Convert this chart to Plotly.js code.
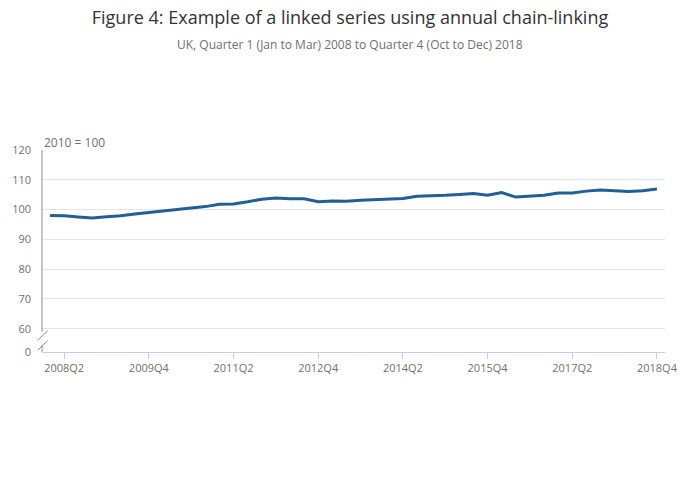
<!DOCTYPE html>
<html>
<head>
<meta charset="utf-8">
<script src="https://cdn.plot.ly/plotly-3.0.1.min.js"></script>
<style>html,body{margin:0;padding:0;background:#fff;}#chart{width:700px;height:502px;}</style>
</head>
<body>
<div id="chart"></div>
<script>
// Data
var years = [2008, 2009, 2010, 2011, 2012, 2013, 2014, 2015, 2016, 2017, 2018];
var quarterNames = ["Q1", "Q2", "Q3", "Q4"];
var quarters = [];
years.forEach(function (y) { quarterNames.forEach(function (q) { quarters.push(y + q); }); });

var indexValues = [
  98.0, 97.9, 97.5, 97.2,
  97.6, 97.9, 98.5, 99.0,
  99.3, 99.9, 100.4, 101.0,
  101.8, 101.9, 102.6, 103.5,
  103.9, 103.6, 103.6, 102.6,
  102.9, 102.8, 103.1, 103.3,
  103.5, 103.7, 104.5, 104.6,
  104.8, 105.1, 105.4, 104.8,
  105.7, 104.2, 104.5, 104.8,
  105.6, 105.6, 106.2, 106.6,
  106.3, 106.1, 106.3, 106.9
];

var xTickLabels = ["2008Q2", "2009Q4", "2011Q2", "2012Q4", "2014Q2", "2015Q4", "2017Q2", "2018Q4"];
var yTickValues = [60, 70, 80, 90, 100, 110, 120];
var yTickLabels = ["60", "70", "80", "90", "100", "110", "120"];
var breakBottomLabel = "0";

// Broken axis: bottom of axis stands for 0
var yBottom = 52.2;
var yTop = 120;

var trace = {
  x: quarters,
  y: indexValues,
  type: "scatter",
  mode: "lines",
  line: { color: "#206095", width: 3 },
  hoverinfo: "x+y"
};

var grey = "#909090";
var shapes = [
  { type: "line", xref: "paper", yref: "y", x0: 0, x1: 0, y0: yTop, y1: 59.0, line: { color: grey, width: 1 } },
  { type: "line", xref: "paper", yref: "y", x0: 0, x1: 0, y0: 54.6, y1: yBottom, line: { color: grey, width: 1 } },
  { type: "line", xref: "paper", yref: "y", x0: -0.0069, x1: 0.0091, y0: 56.2, y1: 59.3, line: { color: grey, width: 1 } },
  { type: "line", xref: "paper", yref: "y", x0: -0.0069, x1: 0.0091, y0: 52.8, y1: 56.0, line: { color: grey, width: 1 } }
];

var layout = {
  width: 700,
  height: 502,
  margin: { l: 42, r: 35, t: 150, b: 150 },
  paper_bgcolor: "#ffffff",
  plot_bgcolor: "#ffffff",
  font: { family: "Open Sans, sans-serif", color: "#707070", size: 11 },
  showlegend: false,
  title: {
    text: "Figure 4: Example of a linked series using annual chain-linking",
    font: { family: "Open Sans, sans-serif", size: 18, color: "#333333" },
    x: 0.5, xanchor: "center",
    y: 1 - 18 / 502, yanchor: "middle", yref: "container"
  },
  annotations: [
    {
      text: "UK, Quarter 1 (Jan to Mar) 2008 to Quarter 4 (Oct to Dec) 2018",
      xref: "paper", yref: "paper",
      x: (350 - 42) / 623, y: 1 + (150 - 44) / 202,
      xanchor: "center", yanchor: "middle",
      showarrow: false,
      font: { family: "Open Sans, sans-serif", size: 12, color: "#707070" }
    },
    {
      text: "2010 = 100",
      xref: "paper", yref: "paper",
      x: 0, y: 1 + (150 - 142) / 202,
      xanchor: "left", yanchor: "middle",
      xshift: 0,
      showarrow: false,
      font: { family: "Open Sans, sans-serif", size: 12, color: "#707070" }
    }
  ],
  xaxis: {
    type: "category",
    range: [-0.57, 43.57],
    tickmode: "array",
    tickvals: xTickLabels,
    ticktext: xTickLabels,
    ticks: "outside",
    ticklen: 6,
    tickcolor: "#c5d0e4",
    showline: true,
    linecolor: "#c5d0e4",
    linewidth: 1,
    showgrid: false,
    zeroline: false,
    tickfont: { family: "Open Sans, sans-serif", size: 11, color: "#707070" },
    fixedrange: true
  },
  yaxis: {
    range: [yBottom, yTop],
    tickmode: "array",
    tickvals: [yBottom].concat(yTickValues),
    ticktext: [breakBottomLabel].concat(yTickLabels),
    showline: false,
    showgrid: true,
    gridcolor: "#e4e4e4",
    gridwidth: 1,
    zeroline: false,
    ticks: "",
    ticklabelstandoff: 10,
    tickfont: { family: "Open Sans, sans-serif", size: 11, color: "#707070" },
    fixedrange: true
  },
  shapes: shapes
};

Plotly.newPlot("chart", [trace], layout, { displayModeBar: false, responsive: false });
</script>
</body>
</html>
